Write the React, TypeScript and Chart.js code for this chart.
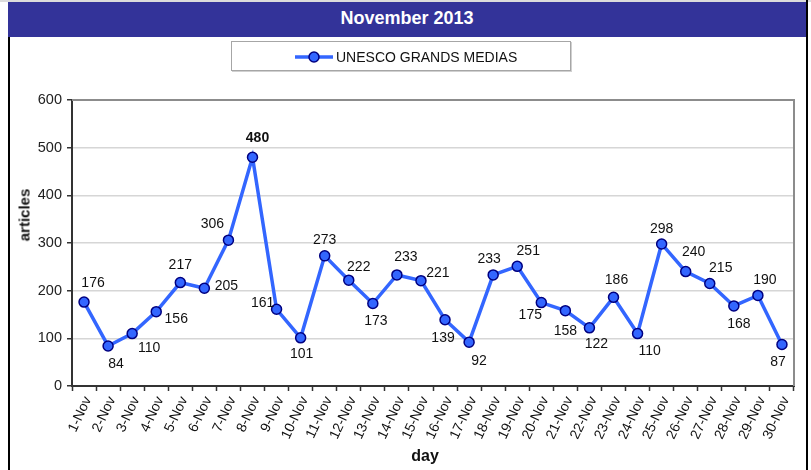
import React, { useEffect, useRef } from "react";
import { Chart, registerables } from "chart.js";

Chart.register(...registerables);

const days = [
  "1-Nov", "2-Nov", "3-Nov", "4-Nov", "5-Nov", "6-Nov", "7-Nov", "8-Nov", "9-Nov", "10-Nov",
  "11-Nov", "12-Nov", "13-Nov", "14-Nov", "15-Nov", "16-Nov", "17-Nov", "18-Nov", "19-Nov", "20-Nov",
  "21-Nov", "22-Nov", "23-Nov", "24-Nov", "25-Nov", "26-Nov", "27-Nov", "28-Nov", "29-Nov", "30-Nov",
];

const articles = [
  176, 84, 110, 156, 217, 205, 306, 480, 161, 101,
  273, 222, 173, 233, 221, 139, 92, 233, 251, 175,
  158, 122, 186, 110, 298, 240, 215, 168, 190, 87,
];

const seriesName = "UNESCO GRANDS MEDIAS";
const chartTitle = "November 2013";
const yMin = 0;
const yMax = 600;
const yStep = 100;

// label placement (offsets from each point, in px)
const labelDx = [9, 8, 17, 20, 0, 22, -16, 5, -14, 1, 0, 10, 3, 9, 17, -2, 10, -4, 11, -11, 0, 7, 3, 12, 0, 8, 11, 5, 7, -4];
const labelDy = [-19, 18, 15, 8, -17, -2, -16, -19, -6, 16, -16, -13, 18, -18, -8, 18, 19, -16, -15, 13, 20, 16, -17, 18, -15, -19, -15, 18, -15, 18];
const boldIndex = 7;

const FONT = "'Liberation Sans', Arial, sans-serif";
const LINE_BLUE = "#3366FF";
const POINT_BORDER = "#000080";

const dataLabelPlugin = {
  id: "dataLabels",
  afterDatasetsDraw(chart: any) {
    const ctx = chart.ctx;
    const meta = chart.getDatasetMeta(0);
    ctx.save();
    ctx.textAlign = "center";
    ctx.textBaseline = "middle";
    ctx.fillStyle = "#111";
    meta.data.forEach((pt: any, i: number) => {
      ctx.font = (i === boldIndex ? "bold " : "") + "14px " + FONT;
      ctx.fillText(String(articles[i]), pt.x + labelDx[i], pt.y + labelDy[i]);
    });
    ctx.restore();
  },
};

const plotBorderPlugin = {
  id: "plotBorder",
  beforeDatasetsDraw(chart: any) {
    const { ctx, chartArea } = chart;
    ctx.save();
    ctx.strokeStyle = "#8c8c8c";
    ctx.lineWidth = 2;
    ctx.beginPath();
    ctx.moveTo(chartArea.left, chartArea.top);
    ctx.lineTo(chartArea.right, chartArea.top);
    ctx.lineTo(chartArea.right, chartArea.bottom);
    ctx.stroke();
    ctx.restore();
  },
};

export default function App() {
  const canvasRef = useRef<HTMLCanvasElement | null>(null);

  useEffect(() => {
    if (!canvasRef.current) return;
    const chart = new Chart(canvasRef.current, {
      type: "line",
      data: {
        labels: days,
        datasets: [
          {
            label: seriesName,
            data: articles,
            borderColor: LINE_BLUE,
            borderWidth: 3.5,
            backgroundColor: LINE_BLUE,
            pointBackgroundColor: LINE_BLUE,
            pointBorderColor: POINT_BORDER,
            pointBorderWidth: 1.5,
            pointRadius: 5,
            tension: 0,
          },
        ],
      },
      options: {
        animation: false,
        responsive: false,
        maintainAspectRatio: false,
        layout: { padding: { top: 100, left: 0, right: 17, bottom: 0 } },
        plugins: {
          legend: { display: false },
          title: { display: false },
          tooltip: { enabled: false },
        },
        scales: {
          x: {
            type: "category",
            offset: true,
            afterFit: (s: any) => {
              s.height = 84;
            },
            grid: {
              offset: true,
              drawOnChartArea: false,
              drawTicks: true,
              tickLength: 5,
              tickColor: "#333",
              tickWidth: 1.5,
            },
            border: { display: true, color: "#333", width: 2 },
            ticks: {
              autoSkip: false,
              minRotation: 65,
              maxRotation: 65,
              padding: 3,
              labelOffset: 4,
              color: "#111",
              font: { family: FONT, size: 14 },
            },
          },
          y: {
            min: yMin,
            max: yMax,
            afterFit: (s: any) => {
              s.width = 72;
            },
            grid: {
              color: "#d6d6d6",
              lineWidth: 1.5,
              tickLength: 5,
              tickColor: "#333",
              tickWidth: 1.5,
            },
            border: { display: true, color: "#333", width: 2 },
            ticks: {
              stepSize: yStep,
              padding: 5,
              color: "#222",
              font: { family: FONT, size: 14.5 },
            },
          },
        },
      },
      plugins: [plotBorderPlugin, dataLabelPlugin],
    } as any);
    return () => chart.destroy();
  }, []);

  return (
    <div
      style={{
        position: "fixed",
        left: 0,
        top: 0,
        width: 811,
        height: 470,
        background: "#fff",
        overflow: "hidden",
        fontFamily: FONT,
      }}
    >
      <div style={{ position: "absolute", left: 0, top: 0, width: 811, height: 2, background: "#dcdcdc" }} />
      <div
        style={{
          position: "absolute",
          left: 8,
          top: 2,
          width: 798,
          height: 35,
          background: "#333399",
          color: "#fff",
          fontWeight: "bold",
          fontSize: 18,
          lineHeight: "33px",
          textAlign: "center",
        }}
      >
        {chartTitle}
      </div>
      <div style={{ position: "absolute", left: 8, top: 37, width: 1.5, height: 433, background: "#000" }} />
      <div style={{ position: "absolute", left: 806, top: 0, width: 2, height: 470, background: "#000" }} />
      <canvas
        ref={canvasRef}
        width={811}
        height={470}
        style={{ position: "absolute", left: 0, top: 0, width: 811, height: 470 }}
      />
      <div
        style={{
          position: "absolute",
          left: 231,
          top: 41,
          width: 338,
          height: 28,
          border: "1px solid #a6a6a6",
          boxShadow: "1px 1px 0 #d0d0d0",
          background: "#fff",
        }}
      >
        <svg
          width={40}
          height={14}
          style={{ position: "absolute", left: 62, top: 8 }}
        >
          <line x1={1} y1={7} x2={39} y2={7} stroke={LINE_BLUE} strokeWidth={3.5} />
          <circle cx={20} cy={7} r={5} fill={LINE_BLUE} stroke={POINT_BORDER} strokeWidth={1.5} />
        </svg>
        <div
          style={{
            position: "absolute",
            left: 104,
            top: 0,
            lineHeight: "30px",
            fontSize: 14,
            color: "#111",
            whiteSpace: "nowrap",
          }}
        >
          {seriesName}
        </div>
      </div>
      <div
        style={{
          position: "absolute",
          left: 24,
          top: 215,
          transform: "translate(-50%, -50%) rotate(-90deg)",
          fontWeight: "bold",
          fontSize: 15,
          color: "#111",
          whiteSpace: "nowrap",
        }}
      >
        articles
      </div>
      <div
        style={{
          position: "absolute",
          left: 425,
          top: 456,
          transform: "translate(-50%, -50%)",
          fontWeight: "bold",
          fontSize: 16,
          color: "#111",
          whiteSpace: "nowrap",
        }}
      >
        day
      </div>
    </div>
  );
}
